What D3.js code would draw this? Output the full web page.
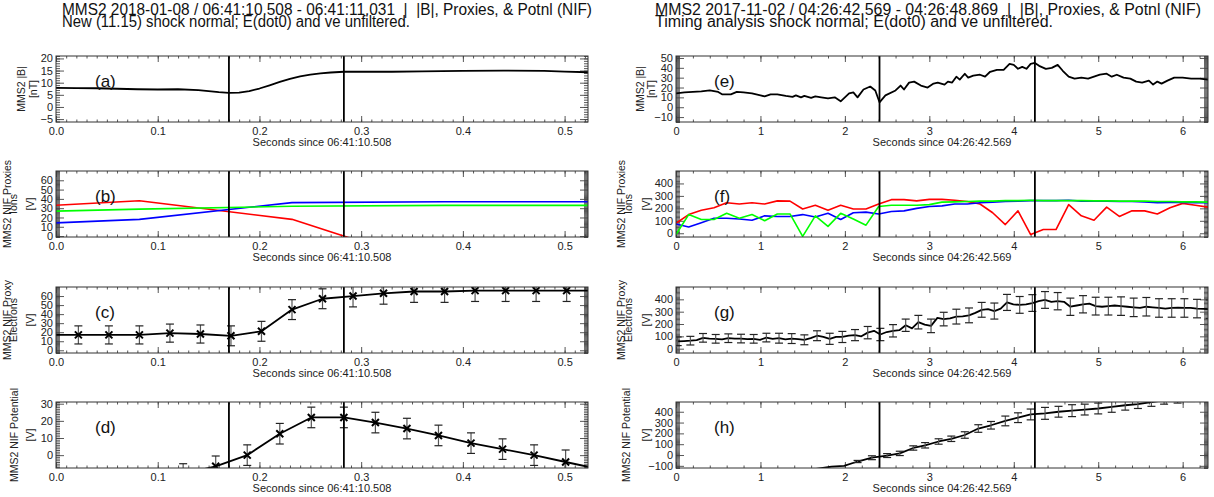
<!DOCTYPE html>
<html>
<head>
<meta charset="utf-8">
<script src="https://cdnjs.cloudflare.com/ajax/libs/d3/7.8.5/d3.min.js"></script>
<style>
  body { margin: 0; background: #fff; }
  svg text { font-family: "Liberation Sans", Arial, Helvetica, sans-serif; }
</style>
</head>
<body>
<div id="content"></div>
<script>
// ---- left event: 2018-01-08 ----
const tBL = [0, 0.02, 0.04, 0.06, 0.08, 0.10, 0.12, 0.14, 0.16, 0.17, 0.18, 0.19, 0.20, 0.21, 0.22, 0.23, 0.24, 0.25, 0.26, 0.27, 0.283, 0.30, 0.33, 0.36, 0.40, 0.44, 0.48, 0.50, 0.523];
const bL  = [7.9, 7.8, 7.7, 7.5, 7.3, 7.2, 7.3, 6.9, 6.1, 5.8, 5.9, 6.5, 7.6, 8.9, 10.3, 11.6, 12.6, 13.3, 13.8, 14.2, 14.5, 14.5, 14.5, 14.7, 14.9, 15.0, 14.9, 14.6, 14.3];

const tIonsL    = [-0.068, 0.082, 0.232, 0.382, 0.532];
const ionsRedL   = [29, 38, 18, -35, -40];
const ionsBlueL  = [11, 18, 36, 37, 37];
const ionsGreenL = [25, 29, 32, 33, 33];

const tElecL = [-0.008, 0.022, 0.052, 0.082, 0.112, 0.142, 0.172, 0.202, 0.232, 0.262, 0.292, 0.322, 0.352, 0.382, 0.412, 0.442, 0.472, 0.502, 0.532];
const elecL  = [17, 17, 17, 17, 19, 18, 16, 21, 45, 57, 60, 63, 65, 65, 66, 66, 66, 66, 66];
const elecErrL = [10, 10, 10, 10, 10, 10, 11, 11, 11, 11, 12, 12, 12, 12, 12, 12, 12, 12, 12];

const tPotL = [0.094, 0.125, 0.157, 0.188, 0.220, 0.251, 0.283, 0.314, 0.345, 0.376, 0.408, 0.439, 0.470, 0.501, 0.533];
const potL  = [-16, -11, -6.5, 0, 12.5, 22, 22, 19, 15.5, 11.5, 7, 3.5, 0, -4, -8];
const potErrL = [6, 6, 6, 6, 6, 6, 6, 6, 6, 6, 6, 6, 6, 7, 7];

const rampsL = [0.17, 0.283];

// ---- right event: 2017-11-02 ----
const tBR = [0, 0.1, 0.2, 0.3, 0.4, 0.5, 0.55, 0.65, 0.72, 0.8, 0.9, 1.0, 1.05, 1.12, 1.2, 1.3, 1.38, 1.42, 1.48, 1.52, 1.6, 1.65, 1.72, 1.8, 1.88, 1.95, 2.05, 2.1, 2.15, 2.22, 2.3, 2.36, 2.41, 2.48, 2.6, 2.66, 2.7, 2.76, 2.82, 2.9, 2.98, 3.05, 3.1, 3.18, 3.22, 3.27, 3.32, 3.36, 3.42, 3.46, 3.52, 3.6, 3.66, 3.72, 3.8, 3.88, 3.95, 4.0, 4.05, 4.1, 4.15, 4.2, 4.25, 4.3, 4.38, 4.45, 4.52, 4.58, 4.65, 4.72, 4.8, 4.88, 4.95, 5.02, 5.1, 5.16, 5.22, 5.3, 5.38, 5.45, 5.52, 5.6, 5.65, 5.7, 5.75, 5.82, 5.9, 6.0, 6.1, 6.2, 6.3];
const bR  = [14, 15, 15.5, 16, 17, 15.5, 13, 13, 15.5, 15, 14, 12, 11, 13, 13, 11.5, 10.5, 12, 10, 11.5, 9.5, 11, 10, 9, 10, 6, 14, 15, 10, 18, 21, 17, 5, 12, 17, 22, 18, 25, 26, 22, 20, 24, 25, 23, 26, 25, 31, 28, 34, 30, 32, 33, 31, 36, 38, 38, 44, 43, 39, 41, 39, 44, 45, 42, 39, 40, 43, 37, 31, 29, 30, 29, 31, 33, 34, 31, 33, 30, 29, 26, 25, 27, 23, 26, 24, 27, 30, 30, 29, 29, 28];

const tIonsR = [0, 0.15, 0.3, 0.45, 0.6, 0.75, 0.9, 1.05, 1.2, 1.35, 1.5, 1.65, 1.8, 1.95, 2.1, 2.25, 2.4, 2.55, 2.7, 2.85, 3.0, 3.15, 3.3, 3.45, 3.6, 3.75, 3.9, 4.05, 4.2, 4.35, 4.5, 4.65, 4.8, 4.95, 5.1, 5.25, 5.4, 5.55, 5.7, 5.85, 6.0, 6.15, 6.3];
const ionsRedR   = [80, 150, 185, 205, 245, 235, 245, 235, 260, 258, 195, 225, 185, 225, 195, 195, 235, 270, 270, 260, 272, 272, 265, 255, 235, 165, 70, 180, -10, 30, 30, 230, 140, 105, 210, 135, 180, 180, 155, 205, 240, 225, 210];
const ionsBlueR  = [75, 50, 85, 120, 120, 115, 105, 140, 135, 135, 150, 130, 160, 110, 165, 170, 155, 175, 180, 200, 215, 220, 235, 235, 245, 250, 255, 258, 262, 262, 262, 265, 258, 258, 258, 255, 255, 252, 245, 248, 248, 245, 245];
const ionsGreenR = [-10, 150, 110, 110, 160, 120, 150, 100, 155, 155, -25, 140, 55, 160, 115, 65, 215, 225, 225, 225, 230, 250, 252, 255, 258, 258, 262, 262, 265, 262, 262, 262, 262, 260, 260, 258, 258, 258, 255, 255, 252, 252, 250];

const tElecR = [0.02, 0.095, 0.17, 0.245, 0.32, 0.395, 0.47, 0.545, 0.62, 0.695, 0.77, 0.845, 0.92, 0.995, 1.07, 1.145, 1.22, 1.295, 1.37, 1.445, 1.52, 1.595, 1.67, 1.745, 1.82, 1.895, 1.97, 2.045, 2.12, 2.195, 2.27, 2.345, 2.42, 2.495, 2.57, 2.645, 2.72, 2.795, 2.87, 2.945, 3.02, 3.095, 3.17, 3.245, 3.32, 3.395, 3.47, 3.545, 3.62, 3.695, 3.77, 3.845, 3.92, 3.995, 4.07, 4.145, 4.22, 4.295, 4.37, 4.445, 4.52, 4.595, 4.67, 4.745, 4.82, 4.895, 4.97, 5.045, 5.12, 5.195, 5.27, 5.345, 5.42, 5.495, 5.57, 5.645, 5.72, 5.795, 5.87, 5.945, 6.02, 6.095, 6.17, 6.245, 6.32];
const elecR = [60, 62, 65, 70, 88, 82, 80, 75, 85, 82, 82, 78, 80, 72, 90, 80, 85, 75, 82, 78, 72, 85, 105, 95, 80, 95, 95, 105, 110, 100, 130, 145, 115, 135, 145, 150, 190, 165, 215, 195, 185, 250, 240, 245, 260, 262, 270, 290, 315, 320, 305, 325, 375, 360, 355, 360, 370, 385, 395, 380, 385, 380, 340, 350, 360, 365, 345, 340, 345, 350, 345, 340, 335, 330, 340, 335, 330, 325, 330, 332, 330, 330, 325, 322, 320];
// error bars on every second electron sample
const elecErrR = [35, 35, 35, 35, 35, 35, 35, 35, 40, 40, 40, 40, 45, 45, 45, 50, 50, 50, 50, 55, 55, 55, 60, 60, 60, 65, 65, 68, 68, 68, 70, 70, 70, 72, 72, 75, 75, 75, 75, 75, 75, 75, 75];

const tPotR = [1.52, 1.68, 1.84, 1.99, 2.15, 2.32, 2.50, 2.65, 2.81, 2.95, 3.11, 3.26, 3.42, 3.58, 3.73, 3.90, 4.05, 4.20, 4.37, 4.53, 4.69, 4.84, 5.00, 5.16, 5.32, 5.47, 5.63, 5.78, 5.94, 6.10, 6.25];
const potR  = [-150, -125, -108, -100, -60, -25, -5, 15, 65, 90, 125, 150, 185, 245, 275, 315, 345, 375, 385, 400, 410, 420, 430, 445, 460, 470, 490, 505, 515, 525, 535];
const potErrR = [0, 0, 0, 0, 10, 18, 18, 20, 20, 25, 25, 25, 30, 35, 35, 45, 45, 50, 55, 50, 55, 50, 50, 50, 45, 40, 40, 35, 35, 30, 30];

const rampsR = [2.41, 4.25];

const titlesL = ["MMS2 2018-01-08 / 06:41:10.508 - 06:41:11.031  |  |B|, Proxies, & Potnl (NIF)",
                 "New (11.15) shock normal; E(dot0) and ve unfiltered."];
const titlesR = ["MMS2 2017-11-02 / 04:26:42.569 - 04:26:48.869  |  |B|, Proxies, & Potnl (NIF)",
                 "Timing analysis shock normal; E(dot0) and ve unfiltered."];

// ---- layout ----
const width = 1214, height = 497;
const colX = [[56, 588], [676, 1208]];
const rowTop = [56, 171, 287, 402];
const panelH = 66;

const svg = d3.select("#content")
    .append("svg")
    .attr("width", width)
    .attr("height", height);

// titles (IDL font is narrow, so squeeze to the measured widths)
[[titlesL, 62, [530, 348]], [titlesR, 655, [546, 398]]].forEach(function (tt) {
    tt[0].forEach(function (line, i) {
        svg.append("text")
            .attr("x", tt[1])
            .attr("y", 15 + i * 12)
            .attr("textLength", tt[2][i])
            .attr("lengthAdjust", "spacingAndGlyphs")
            .style("font-size", "16px")
            .style("white-space", "pre")
            .attr("fill", "#111")
            .text(line);
    });
});

var clip_n = 0;

function draw_panel(cfg) {
    const left = colX[cfg.col][0], right = colX[cfg.col][1];
    const top = rowTop[cfg.row], bottom = top + panelH;
    const x = d3.scaleLinear().domain(cfg.xDomain).range([left, right]);
    const y = d3.scaleLinear().domain(cfg.yDomain).range([bottom, top]);

    const g = svg.append("g");
    const id = "clip" + (clip_n++);
    g.append("clipPath").attr("id", id)
        .append("rect")
        .attr("x", left).attr("y", top)
        .attr("width", right - left).attr("height", panelH);

    // minor ticks
    const xMinor = d3.range(cfg.xDomain[0], cfg.xDomain[1] + 1e-9, cfg.xMinorStep);
    const y0 = Math.ceil(cfg.yDomain[0] / cfg.yMinorStep) * cfg.yMinorStep;
    const yMinor = d3.range(y0, cfg.yDomain[1] + 1e-9, cfg.yMinorStep);

    const axes = [
        [d3.axisBottom(x).tickValues(xMinor).tickSize(-2.5).tickFormat(""), "translate(0," + bottom + ")"],
        [d3.axisTop(x).tickValues(xMinor).tickSize(-2.5).tickFormat(""), "translate(0," + top + ")"],
        [d3.axisLeft(y).tickValues(yMinor).tickSize(-4).tickFormat(""), "translate(" + left + ",0)"],
        [d3.axisRight(y).tickValues(yMinor).tickSize(-4).tickFormat(""), "translate(" + right + ",0)"],
        [d3.axisBottom(x).tickValues(cfg.xMajor).tickSize(-6).tickPadding(5).tickFormat(cfg.xFormat), "translate(0," + bottom + ")"],
        [d3.axisTop(x).tickValues(cfg.xMajor).tickSize(-6).tickFormat(""), "translate(0," + top + ")"],
        [d3.axisLeft(y).tickValues(cfg.yMajor).tickSize(-8).tickPadding(3).tickFormat(d3.format("d")), "translate(" + left + ",0)"],
        [d3.axisRight(y).tickValues(cfg.yMajor).tickSize(-8).tickFormat(""), "translate(" + right + ",0)"]
    ];
    axes.forEach(function (a) {
        const ag = g.append("g").attr("transform", a[1]).call(a[0]);
        ag.select(".domain").remove();
        ag.selectAll(".tick line").attr("stroke", "#444").attr("stroke-width", 0.9);
        ag.selectAll(".tick text")
            .attr("fill", "#222")
            .style("font-size", "11px");
    });

    const plot = g.append("g").attr("clip-path", "url(#" + id + ")");

    // data lines
    cfg.series.forEach(function (s) {
        const pts = s.t.map((t, i) => [t, s.v[i]]);
        plot.append("path")
            .datum(pts)
            .attr("fill", "none")
            .attr("stroke", s.color)
            .attr("stroke-width", s.width || 1.6)
            .attr("stroke-linejoin", "round")
            .attr("d", d3.line().x(d => x(d[0])).y(d => y(d[1])));

        if (s.err) {
            const eb = s.t.map((t, i) => [t, s.v[i], s.err[i]])
                .filter((d, i) => (s.errEvery ? i % s.errEvery === 0 : true));
            const bars = eb.map(function (d, k) {
                return [d[0], d[1], s.errEvery ? s.err[k] : d[2]];
            }).filter(d => d[2] > 0);
            const eg = plot.append("g").attr("stroke", "#555").attr("stroke-width", 1.2);
            eg.selectAll(".bar").data(bars).join("line")
                .attr("x1", d => x(d[0])).attr("x2", d => x(d[0]))
                .attr("y1", d => y(d[1] - d[2])).attr("y2", d => y(d[1] + d[2]));
            eg.selectAll(".capHi").data(bars).join("line")
                .attr("stroke", "#222")
                .attr("x1", d => x(d[0]) - 4).attr("x2", d => x(d[0]) + 4)
                .attr("y1", d => y(d[1] + d[2])).attr("y2", d => y(d[1] + d[2]));
            eg.selectAll(".capLo").data(bars).join("line")
                .attr("stroke", "#222")
                .attr("x1", d => x(d[0]) - 4).attr("x2", d => x(d[0]) + 4)
                .attr("y1", d => y(d[1] - d[2])).attr("y2", d => y(d[1] - d[2]));
        }
        if (s.marker) {
            plot.selectAll(".mk").data(pts).join("path")
                .attr("transform", d => "translate(" + x(d[0]) + "," + y(d[1]) + ")")
                .attr("d", "M-3.5,-3.5L3.5,3.5M-3.5,3.5L3.5,-3.5")
                .attr("stroke", "#000")
                .attr("stroke-width", 2);
        }
    });

    // ramp start / end lines
    cfg.ramps.forEach(function (r) {
        g.append("line")
            .attr("x1", x(r)).attr("x2", x(r))
            .attr("y1", top).attr("y2", bottom)
            .attr("stroke", "#000").attr("stroke-width", 1.8);
    });

    // frame
    g.append("rect")
        .attr("x", left).attr("y", top)
        .attr("width", right - left).attr("height", panelH)
        .attr("fill", "none").attr("stroke", "#333").attr("stroke-width", 1);

    // panel letter
    g.append("text")
        .attr("x", cfg.col === 0 ? 95 : 714)
        .attr("y", top + 31)
        .style("font-size", "17px")
        .attr("fill", "#111")
        .text(cfg.label);

    // x title
    g.append("text")
        .attr("x", (left + right) / 2)
        .attr("y", bottom + 24)
        .attr("text-anchor", "middle")
        .style("font-size", "11px")
        .attr("fill", "#222")
        .text(cfg.xTitle);

    // y title lines
    cfg.yTitle.forEach(function (yt) {
        const tx = left + yt[1], ty = (top + bottom) / 2;
        g.append("text")
            .attr("transform", "translate(" + tx + "," + ty + ") rotate(-90)")
            .attr("text-anchor", "middle")
            .attr("dominant-baseline", "middle")
            .style("font-size", "10.5px")
            .attr("fill", "#222")
            .text(yt[0]);
    });
}

const xL = {xDomain: [0, 0.523], xMajor: [0, 0.1, 0.2, 0.3, 0.4, 0.5], xMinorStep: 0.01,
            xFormat: d3.format(".1f"), xTitle: "Seconds since 06:41:10.508", ramps: rampsL, col: 0};
const xR = {xDomain: [0, 6.3], xMajor: [0, 1, 2, 3, 4, 5, 6], xMinorStep: 0.2,
            xFormat: d3.format("d"), xTitle: "Seconds since 04:26:42.569", ramps: rampsR, col: 1};

const panels = [
    Object.assign({}, xL, {row: 0, label: "(a)", yDomain: [-6.2, 21], yMajor: [-5, 0, 5, 10, 15, 20], yMinorStep: 1,
        yTitle: [["MMS2 |B|", -34], ["[nT]", -22]],
        series: [{t: tBL, v: bL, color: "#000", width: 1.8}]}),
    Object.assign({}, xL, {row: 1, label: "(b)", yDomain: [-1, 70], yMajor: [0, 10, 20, 30, 40, 50, 60], yMinorStep: 1,
        yTitle: [["MMS2 NIF Proxies", -48], ["Ions", -42], ["[V]", -25]],
        series: [{t: tIonsL, v: ionsRedL, color: "#ff0000"},
                 {t: tIonsL, v: ionsBlueL, color: "#0000ff"},
                 {t: tIonsL, v: ionsGreenL, color: "#00ff00"}]}),
    Object.assign({}, xL, {row: 2, label: "(c)", yDomain: [-3, 70], yMajor: [0, 10, 20, 30, 40, 50, 60], yMinorStep: 1,
        yTitle: [["MMS2 NIF Proxy", -48], ["Electrons", -42], ["[V]", -25]],
        series: [{t: tElecL, v: elecL, err: elecErrL, marker: true, color: "#000", width: 1.8}]}),
    Object.assign({}, xL, {row: 3, label: "(d)", yDomain: [-7.5, 31], yMajor: [0, 10, 20, 30], yMinorStep: 1,
        yTitle: [["MMS2 NIF Potential", -41], ["[V]", -25]],
        series: [{t: tPotL, v: potL, err: potErrL, marker: true, color: "#000", width: 1.8}]}),

    Object.assign({}, xR, {row: 0, label: "(e)", yDomain: [-15, 52], yMajor: [-10, 0, 10, 20, 30, 40, 50], yMinorStep: 1,
        yTitle: [["MMS2 |B|", -35], ["[nT]", -24]],
        series: [{t: tBR, v: bR, color: "#000", width: 1.8}]}),
    Object.assign({}, xR, {row: 1, label: "(f)", yDomain: [-30, 500], yMajor: [0, 100, 200, 300, 400], yMinorStep: 10,
        yTitle: [["MMS2 NIF Proxies", -54], ["Ions", -47], ["[V]", -29]],
        series: [{t: tIonsR, v: ionsRedR, color: "#ff0000"},
                 {t: tIonsR, v: ionsBlueR, color: "#0000ff"},
                 {t: tIonsR, v: ionsGreenR, color: "#00ff00"}]}),
    Object.assign({}, xR, {row: 2, label: "(g)", yDomain: [-35, 500], yMajor: [0, 100, 200, 300, 400], yMinorStep: 10,
        yTitle: [["MMS2 NIF Proxy", -54], ["Electrons", -47], ["[V]", -29]],
        series: [{t: tElecR, v: elecR, err: elecErrR, errEvery: 2, color: "#000", width: 1.8}]}),
    Object.assign({}, xR, {row: 3, label: "(h)", yDomain: [-120, 490], yMajor: [-100, 0, 100, 200, 300, 400], yMinorStep: 10,
        yTitle: [["MMS2 NIF Potential", -49], ["[V]", -29]],
        series: [{t: tPotR, v: potR, err: potErrR, color: "#000", width: 1.8}]})
];

panels.forEach(draw_panel);
</script>
</body>
</html>
